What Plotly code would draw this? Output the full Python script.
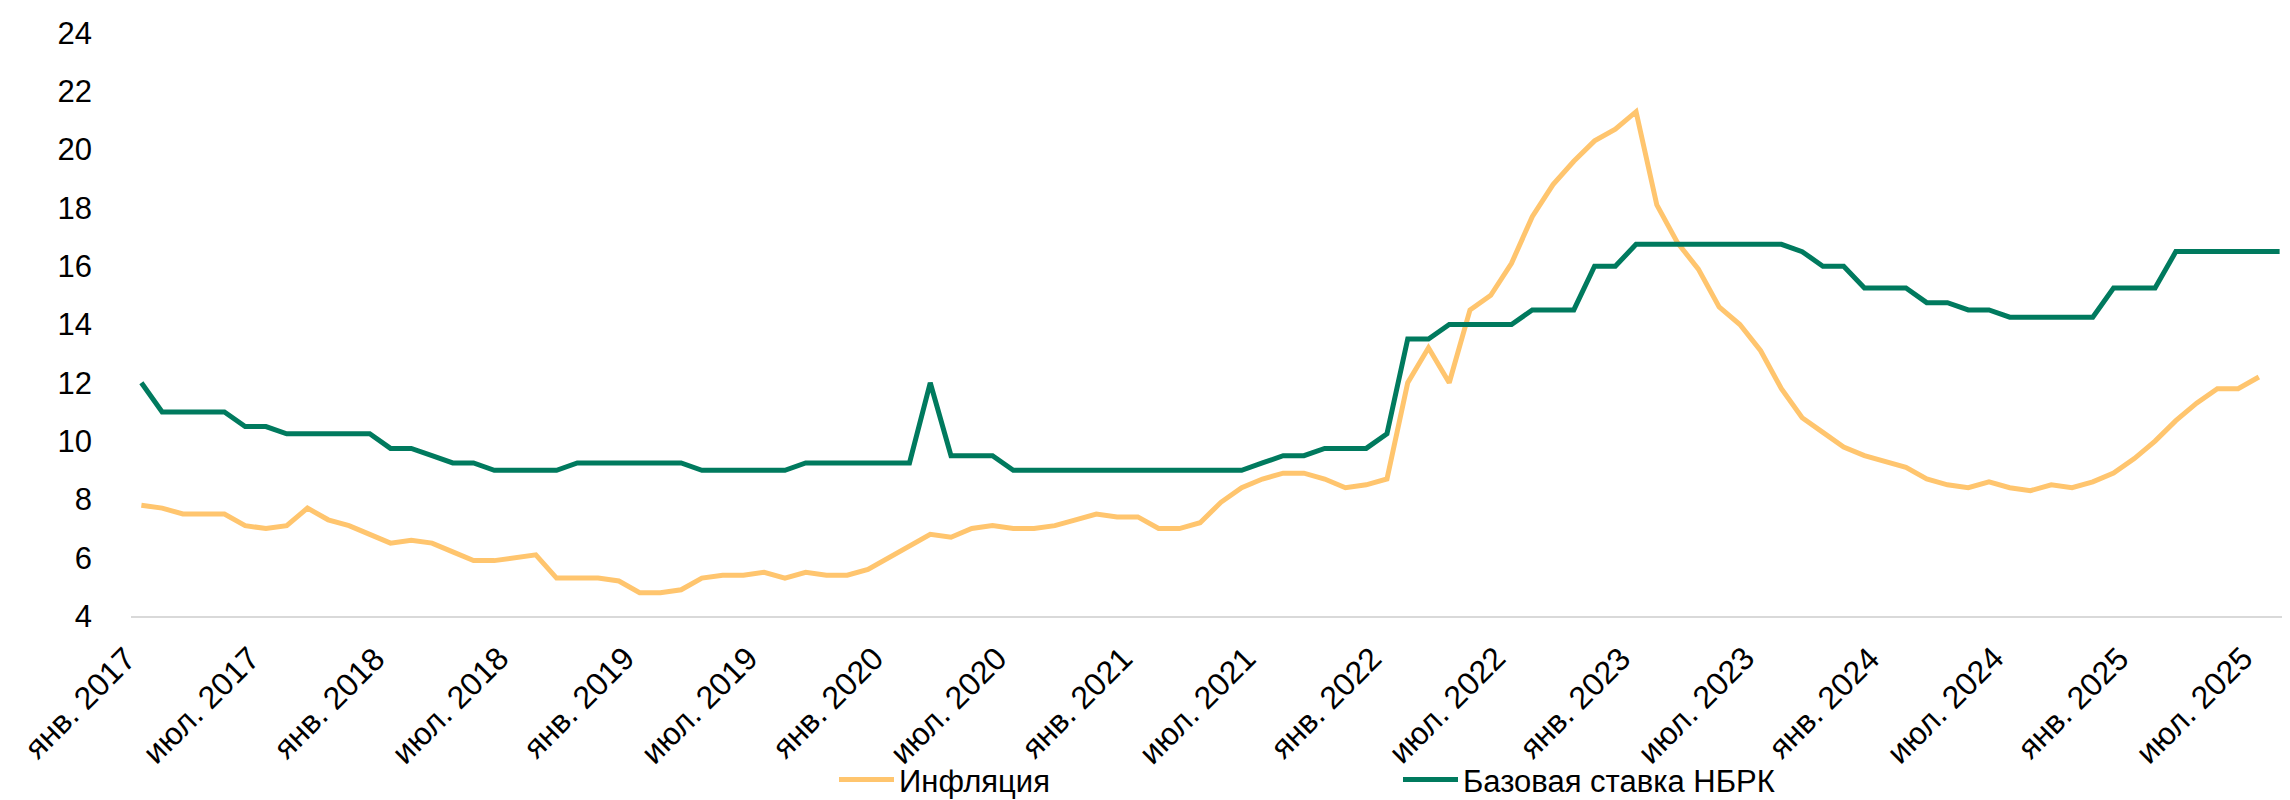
import plotly.graph_objects as go

# ---- Data -------------------------------------------------------------
month_abbr = ["янв.", "фев.", "мар.", "апр.", "май", "июн.",
              "июл.", "авг.", "сен.", "окт.", "ноя.", "дек."]
years = [2017, 2018, 2019, 2020, 2021, 2022, 2023, 2024, 2025]

months = [f"{m} {y}" for y in years for m in month_abbr][:104]  # янв. 2017 .. авг. 2025

inflation = [
    7.8, 7.7, 7.5, 7.5, 7.5, 7.1, 7.0, 7.1, 7.7, 7.3, 7.1, 6.8,        # 2017
    6.5, 6.6, 6.5, 6.2, 5.9, 5.9, 6.0, 6.1, 5.3, 5.3, 5.3, 5.2,        # 2018
    4.8, 4.8, 4.9, 5.3, 5.4, 5.4, 5.5, 5.3, 5.5, 5.4, 5.4, 5.6,        # 2019
    6.0, 6.4, 6.8, 6.7, 7.0, 7.1, 7.0, 7.0, 7.1, 7.3, 7.5, 7.4,        # 2020
    7.4, 7.0, 7.0, 7.2, 7.9, 8.4, 8.7, 8.9, 8.9, 8.7, 8.4, 8.5,        # 2021
    8.7, 12.0, 13.2, 12.0, 14.5, 15.0, 16.1, 17.7, 18.8, 19.6, 20.3, 20.7,  # 2022
    21.3, 18.1, 16.8, 15.9, 14.6, 14.0, 13.1, 11.8, 10.8, 10.3, 9.8, 9.5,   # 2023
    9.3, 9.1, 8.7, 8.5, 8.4, 8.6, 8.4, 8.3, 8.5, 8.4, 8.6, 8.9,        # 2024
    9.4, 10.0, 10.7, 11.3, 11.8, 11.8, 12.2,                           # 2025
]

base_rate = [
    12.0, 11.0, 11.0, 11.0, 11.0, 10.5, 10.5, 10.25, 10.25, 10.25, 10.25, 10.25,  # 2017
    9.75, 9.75, 9.5, 9.25, 9.25, 9.0, 9.0, 9.0, 9.0, 9.25, 9.25, 9.25,            # 2018
    9.25, 9.25, 9.25, 9.0, 9.0, 9.0, 9.0, 9.0, 9.25, 9.25, 9.25, 9.25,            # 2019
    9.25, 9.25, 12.0, 9.5, 9.5, 9.5, 9.0, 9.0, 9.0, 9.0, 9.0, 9.0,                # 2020
    9.0, 9.0, 9.0, 9.0, 9.0, 9.0, 9.25, 9.5, 9.5, 9.75, 9.75, 9.75,               # 2021
    10.25, 13.5, 13.5, 14.0, 14.0, 14.0, 14.0, 14.5, 14.5, 14.5, 16.0, 16.0,      # 2022
    16.75, 16.75, 16.75, 16.75, 16.75, 16.75, 16.75, 16.75, 16.5, 16.0, 16.0, 15.25,  # 2023
    15.25, 15.25, 14.75, 14.75, 14.5, 14.5, 14.25, 14.25, 14.25, 14.25, 14.25, 15.25,  # 2024
    15.25, 15.25, 16.5, 16.5, 16.5, 16.5, 16.5, 16.5,                             # 2025
]

tick_labels = [
    "янв. 2017", "июл. 2017", "янв. 2018", "июл. 2018", "янв. 2019", "июл. 2019",
    "янв. 2020", "июл. 2020", "янв. 2021", "июл. 2021", "янв. 2022", "июл. 2022",
    "янв. 2023", "июл. 2023", "янв. 2024", "июл. 2024", "янв. 2025", "июл. 2025",
]
y_ticks = [4, 6, 8, 10, 12, 14, 16, 18, 20, 22, 24]

series_names = ["Инфляция", "Базовая ставка НБРК"]
colors = ["#FFC56E", "#007A5E"]

# ---- Figure -----------------------------------------------------------
FONT = "Liberation Sans, Arial, sans-serif"
FS = 31

fig = go.Figure()
fig.add_trace(go.Scatter(
    x=months[:len(inflation)], y=inflation, mode="lines", name=series_names[0],
    line=dict(color=colors[0], width=5), hoverinfo="x+y",
))
fig.add_trace(go.Scatter(
    x=months[:len(base_rate)], y=base_rate, mode="lines", name=series_names[1],
    line=dict(color=colors[1], width=5), hoverinfo="x+y",
))

# rotated category labels (anchored so the end of each label sits at its month)
for lab in tick_labels:
    fig.add_annotation(
        x=lab, xref="x", y=0, yref="paper",
        text=lab, textangle=-45, showarrow=False,
        xanchor="right", yanchor="top",
        xshift=1, yshift=-24,
        font=dict(size=32, family=FONT, color="#000000"),
        borderpad=0, borderwidth=0,
    )

fig.update_layout(
    width=2290, height=800,
    margin=dict(l=123, r=8, t=25, b=192, autoexpand=False),
    paper_bgcolor="white", plot_bgcolor="white",
    font=dict(family=FONT, size=FS, color="#000000"),
    showlegend=True,
    legend=dict(
        orientation="h",
        xref="container", yref="paper",
        x=826 / 2290, xanchor="left",
        y=-0.281, yanchor="middle",
        font=dict(size=FS, family=FONT, color="#000000"),
        itemwidth=55,
        entrywidth=494, entrywidthmode="pixels",
        traceorder="normal",
        bgcolor="rgba(0,0,0,0)",
    ),
)

fig.update_xaxes(
    type="category",
    categoryorder="array", categoryarray=months,
    range=[-0.5, len(months) - 0.5],
    showticklabels=False,
    showgrid=False, zeroline=False,
    showline=True, linecolor="#D9D9D9", linewidth=2,
    ticks="",
)
fig.update_yaxes(
    range=[4, 24],
    tickmode="array", tickvals=y_ticks,
    tickfont=dict(size=FS, family=FONT, color="#000000"),
    showgrid=False, zeroline=False, showline=False,
    ticks="", ticklabelstandoff=38,
)

fig.write_html("out.html")
